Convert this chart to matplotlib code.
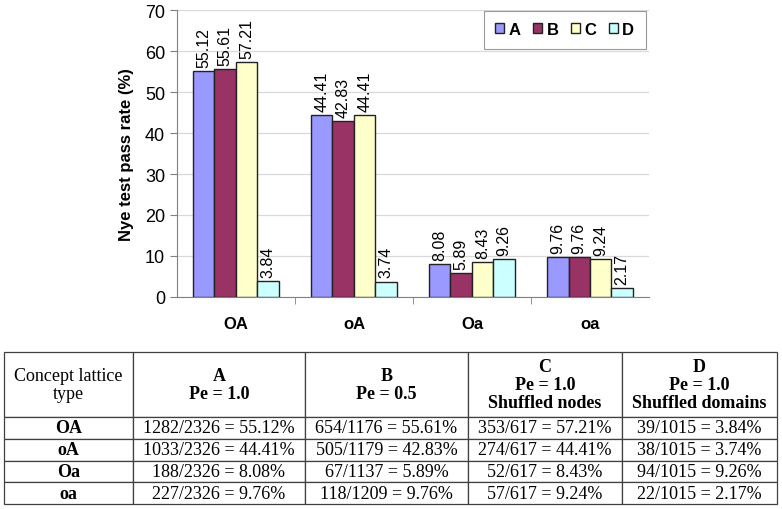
import matplotlib
matplotlib.use("Agg")
import matplotlib.pyplot as plt
import numpy as np

# ---- data ----------------------------------------------------------------
lattice_types = ["OA", "oA", "Oa", "oa"]
series = ["A", "B", "C", "D"]
pct_A = [55.12, 44.41, 8.08, 9.76]
pct_B = [55.61, 42.83, 5.89, 9.76]
pct_C = [57.21, 44.41, 8.43, 9.24]
pct_D = [3.84, 3.74, 9.26, 2.17]

num_A = [1282, 1033, 188, 227]
den_A = [2326, 2326, 2326, 2326]
num_B = [654, 505, 67, 118]
den_B = [1176, 1179, 1137, 1209]
num_C = [353, 274, 52, 57]
den_C = [617, 617, 617, 617]
num_D = [39, 38, 94, 22]
den_D = [1015, 1015, 1015, 1015]

table_headers = ["Concept lattice\ntype", "A\nPe = 1.0", "B\nPe = 0.5",
                 "C\nPe = 1.0\nShuffled nodes", "D\nPe = 1.0\nShuffled domains"]

# ---- style ---------------------------------------------------------------
SANS = "Liberation Sans"
SERIF = "Liberation Serif"
COLORS = ["#9999FF", "#993366", "#FFFFCC", "#CCFFFF"]
GRID = "#D9D9D9"
AXIS = "#808080"

plt.rcParams.update({"font.family": SANS, "font.size": 11})

fig = plt.figure(figsize=(7.82, 5.10), dpi=100)
ax = fig.add_axes([0.2263, 0.4157, 0.6036, 0.5627])

pcts = [pct_A, pct_B, pct_C, pct_D]
x = np.arange(len(lattice_types))
w = 0.182
for i, (vals, col, name) in enumerate(zip(pcts, COLORS, series)):
    xs = x - 1.5 * w + i * w
    bars = ax.bar(xs, vals, width=w, color=col, edgecolor="#222222",
                  linewidth=1.0, label=name, zorder=3)
    for b, v in zip(bars, vals):
        ax.annotate(f"{v:.2f}", (b.get_x() + b.get_width() / 2, v),
                    xytext=(0, 3), textcoords="offset points",
                    rotation=90, ha="center", va="bottom", fontsize=11.5)

ax.set_xlim(-0.5, 3.5)
ax.set_ylim(0, 70)
ax.set_yticks(range(0, 71, 10))
ax.yaxis.grid(True, color=GRID, lw=0.9, zorder=0)
ax.set_axisbelow(True)
for s in ("top", "right"):
    ax.spines[s].set_visible(False)
for s in ("left", "bottom"):
    ax.spines[s].set_color(AXIS)
ax.tick_params(axis="y", colors=AXIS, labelcolor="black", length=5,
               labelsize=13, direction="out")
ax.set_xticks(x)
ax.set_xticklabels(lattice_types, fontweight="bold", fontsize=12)
ax.tick_params(axis="x", length=0, pad=14)
ax.set_xticks([0.5, 1.5, 2.5], minor=True)
ax.tick_params(axis="x", which="minor", length=5, color=AXIS)
ax.set_ylabel("Nye test pass rate (%)", fontweight="bold", fontsize=12,
              labelpad=8)

leg = ax.legend(loc="upper right", bbox_to_anchor=(0.993, 0.998), ncol=4,
                fancybox=False, edgecolor=AXIS, handlelength=0.55,
                handleheight=0.55, handletextpad=0.25, columnspacing=0.75,
                borderpad=0.7, borderaxespad=0.0,
                prop={"weight": "bold", "size": 12, "family": SANS})
leg.get_frame().set_linewidth(0.8)

# ---- table ---------------------------------------------------------------
def cells(nums, dens, vals):
    return [f"{n}/{d} = {p:.2f}%" for n, d, p in zip(nums, dens, vals)]

col_A = cells(num_A, den_A, pct_A)
col_B = cells(num_B, den_B, pct_B)
col_C = cells(num_C, den_C, pct_C)
col_D = cells(num_D, den_D, pct_D)
body = [[t, a, b, c, d] for t, a, b, c, d in
        zip(lattice_types, col_A, col_B, col_C, col_D)]

tax = fig.add_axes([0.005, 0.0098, 0.9886, 0.298])
tax.axis("off")
col_px = [129, 172, 163, 154, 155]
widths = [c / sum(col_px) for c in col_px]
tbl = tax.table(cellText=[table_headers] + body, colWidths=widths,
                cellLoc="center", bbox=[0.0, 0.0, 1.0, 1.0])
tbl.auto_set_font_size(False)
row_h = [65, 21.7, 21.7, 21.7, 21.7]
for (r, c), cell in tbl.get_celld().items():
    cell.set_height(row_h[r])
    cell.set_edgecolor("#404040")
    cell.set_linewidth(0.9)
    txt = cell.get_text()
    txt.set_fontfamily(SERIF)
    txt.set_fontsize(13)
    txt.set_linespacing(1.08)
    if (r == 0 and c > 0) or (r > 0 and c == 0):
        txt.set_fontweight("bold")

fig.savefig("out.png", dpi=100, facecolor="white")
